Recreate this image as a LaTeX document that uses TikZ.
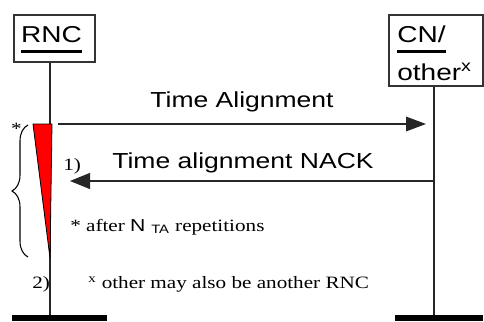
\documentclass[tikz,border=0pt]{standalone}
\usepackage{fontspec}
\setmainfont{Liberation Serif}
\setsansfont{Liberation Sans}
\usepackage{graphicx}
\usetikzlibrary{arrows.meta,decorations.pathreplacing}
\newcommand\hs[1]{\scalebox{1.22}[1]{#1}}
\newcommand\myul[1]{\setbox0=\hbox{#1}\rlap{\copy0}\raisebox{-7.5pt}{\rule{\wd0}{2.2pt}}}
\begin{document}
\begin{tikzpicture}[x=0.75pt,y=-0.75pt,
 box/.style={draw=black!80, line width=0.9pt, inner sep=0pt},
 lbl/.style={font=\sffamily\fontsize{17.25}{20}\selectfont, inner sep=0pt},
 msg/.style={font=\sffamily\fontsize{16.3}{19}\selectfont, inner sep=0pt, anchor=base},
 note/.style={font=\rmfamily\fontsize{13}{15}\selectfont, inner sep=0pt, anchor=base west},
 life/.style={line width=0.9pt, black!85},
 bar/.style={fill=black, inner sep=0pt, minimum height=4.5pt},
 msgline/.style={line width=0.8pt, black!85},
]
\useasboundingbox (0,0) rectangle (484,321);
% boxes
\node[box, minimum width=60.75pt, minimum height=35.25pt] (rnc) at (54.5,38.5) {};
\node[box, minimum width=70.5pt, minimum height=53.25pt] (cn) at (436,50.5) {};
\node[lbl, anchor=base] (rnct) at (51.5,43) {\hs{\myul{RNC}}};
\node[lbl, anchor=base west] (cnt1) at (397,43) {\hs{\myul{CN/}}};
\node[lbl, anchor=base west] (cnt2) at (397,80) {\hs{other\textsuperscript{x}}};
% bars and lifelines
\node[bar, minimum width=71.25pt] (lbar) at (59.5,318) {};
\node[bar, minimum width=66pt] (rbar) at (439,318) {};
\coordinate (L) at (50,0);
\coordinate (R) at (434,0);
\draw[life] (rnc.south -| L) -- (lbar.north -| L);
\draw[life] (cn.south -| R) -- (rbar.north -| R);
% messages
\coordinate (m1s) at (58,124);
\coordinate (m1e) at (426,124);
\draw[msgline, -{Triangle[length=15pt,width=11pt]}] (m1s) -- (m1e);
\coordinate (m2s) at (434,181);
\coordinate (m2e) at (70,181);
\draw[msgline, -{Triangle[length=15pt,width=12pt]}] (m2s) -- (m2e);
\node[msg] (l1) at (242,107) {\hs{Time Alignment}};
\node[msg] (l2) at (243,168) {\hs{Time alignment NACK}};
% red triangle and brace
\draw[fill=red, line width=0.6pt] (33,124) -- (52,124) -- (50,258) -- cycle;
\draw[line width=0.8pt, decorate, decoration={brace, amplitude=12pt}] (28,257) -- (28,125);
% notes
\node[note, anchor=base] (st1) at (16.5,134) {\hs{*}};
\node[note] (n1) at (63,170) {\hs{1)}};
\node[note] (n2) at (32,288) {\hs{2)}};
\node[note] (n3) at (70,231) {\hs{* after {\sffamily N \textsubscript{TA}} repetitions}};
\node[note] (n4) at (88,288) {\hs{\textsuperscript{x} other may also be another RNC}};
\end{tikzpicture}
\end{document}
